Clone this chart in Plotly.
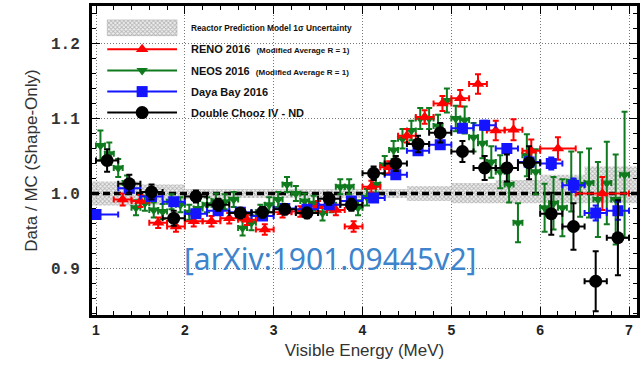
import plotly.graph_objects as go

# ---------------- data ----------------
# Double Chooz IV - ND
dc_e = [1.125, 1.375, 1.625, 1.875, 2.125, 2.375, 2.625, 2.875, 3.125, 3.375, 3.625, 3.875,
        4.125, 4.375, 4.625, 4.875, 5.125, 5.375, 5.625, 5.875, 6.125, 6.375, 6.625, 6.875]
dc_r = [1.044, 1.013, 1.002, 0.967, 0.996, 0.985, 0.974, 0.975, 0.979, 0.974, 0.993, 0.985,
        1.027, 1.040, 1.066, 1.081, 1.056, 1.034, 1.034, 1.041, 0.973, 0.956, 0.883, 0.941]
dc_ey = [0.015, 0.012, 0.010, 0.010, 0.008, 0.008, 0.007, 0.007, 0.007, 0.007, 0.008, 0.008,
         0.009, 0.010, 0.011, 0.013, 0.014, 0.016, 0.018, 0.022, 0.028, 0.031, 0.040, 0.050]
dc_ex = [0.125] * 24

# Daya Bay 2016
db_e = [1.0, 1.375, 1.625, 1.875, 2.125, 2.375, 2.625, 2.875, 3.125, 3.375, 3.625, 3.875,
        4.125, 4.375, 4.625, 4.875, 5.125, 5.375, 5.625, 5.875, 6.125, 6.375, 6.625, 6.875]
db_r = [0.972, 1.007, 0.996, 0.989, 0.973, 0.977, 0.975, 0.970, 0.980, 0.979, 0.985, 0.990,
        0.994, 1.025, 1.057, 1.065, 1.087, 1.091, 1.060, 1.042, 1.040, 1.011, 0.974, 0.977]
db_ey = [0.004, 0.004, 0.004, 0.004, 0.004, 0.004, 0.004, 0.004, 0.004, 0.004, 0.004, 0.004,
         0.004, 0.004, 0.005, 0.005, 0.005, 0.006, 0.006, 0.007, 0.008, 0.009, 0.010, 0.012]
db_ex = [0.25] + [0.125] * 23

# RENO 2016
reno_e = [1.3, 1.5, 1.7, 1.9, 2.1, 2.3, 2.5, 2.7, 2.9, 3.1, 3.3, 3.5, 3.7, 3.9,
          4.1, 4.3, 4.5, 4.7, 4.9, 5.1, 5.3, 5.5, 5.7, 5.9, 6.2, 6.7]
reno_r = [0.992, 0.990, 0.961, 0.956, 0.963, 0.963, 0.967, 0.965, 0.952, 0.975, 0.976, 0.983, 0.978, 0.956,
          1.009, 1.035, 1.077, 1.102, 1.120, 1.127, 1.146, 1.084, 1.085, 1.057, 1.060, 1.000]
reno_ey = [0.008, 0.008, 0.007, 0.007, 0.007, 0.007, 0.007, 0.007, 0.007, 0.007, 0.007, 0.007, 0.007, 0.007,
           0.008, 0.008, 0.009, 0.009, 0.010, 0.011, 0.013, 0.013, 0.014, 0.015, 0.015, 0.022]
reno_ex = [0.1] * 24 + [0.2, 0.3]

# NEOS 2016
neos_e = [1.05, 1.15, 1.25, 1.35, 1.45, 1.55, 1.65, 1.75, 1.85, 1.95,
          2.05, 2.15, 2.25, 2.35, 2.45, 2.55, 2.65, 2.75, 2.85, 2.95,
          3.05, 3.15, 3.25, 3.35, 3.45, 3.55, 3.65, 3.75, 3.85, 3.95,
          4.05, 4.15, 4.25, 4.35, 4.45, 4.55, 4.65, 4.75, 4.85, 4.95,
          5.05, 5.15, 5.25, 5.35, 5.45, 5.55, 5.65, 5.75, 5.85, 5.95,
          6.05, 6.15, 6.25, 6.35, 6.45, 6.55, 6.65, 6.75, 6.85, 6.95]
neos_r = [1.064, 1.053, 1.034, 1.014, 0.981, 0.987, 0.978, 0.976, 0.989, 0.985,
          0.975, 0.980, 0.985, 0.990, 0.989, 0.992, 0.954, 0.961, 0.975, 0.985,
          0.992, 1.012, 1.000, 0.990, 0.987, 0.974, 0.985, 1.009, 1.009, 0.981,
          0.995, 1.012, 1.038, 1.058, 1.073, 1.084, 1.100, 1.100, 1.090, 1.124,
          1.100, 1.098, 1.075, 1.067, 1.042, 1.029, 1.012, 0.961, 1.051, 1.029,
          0.981, 0.987, 0.981, 1.016, 1.012, 1.014, 0.992, 1.014, 0.992, 1.025]
neos_ey = [0.020, 0.015, 0.012, 0.010, 0.010, 0.010, 0.010, 0.010, 0.010, 0.010,
           0.010, 0.010, 0.010, 0.010, 0.010, 0.010, 0.010, 0.010, 0.010, 0.010,
           0.010, 0.010, 0.010, 0.010, 0.010, 0.010, 0.010, 0.010, 0.010, 0.010,
           0.011, 0.011, 0.012, 0.012, 0.013, 0.013, 0.014, 0.014, 0.015, 0.016,
           0.017, 0.018, 0.019, 0.020, 0.021, 0.022, 0.024, 0.026, 0.028, 0.030,
           0.032, 0.035, 0.038, 0.040, 0.043, 0.046, 0.050, 0.055, 0.060, 0.084]
neos_ex = [0.05] * 60

# Reactor prediction 1-sigma band (step edges)
band_e = [0.95, 1.5, 2.0, 2.5, 3.0, 3.5, 4.0, 4.5, 5.0, 5.5, 6.0, 6.5, 7.1]
band_hi = [1.016, 1.012, 1.006, 1.006, 1.006, 1.006, 1.006, 1.010, 1.014, 1.018, 1.025, 1.036, 1.036]
band_lo = [0.984, 0.985, 0.993, 0.994, 0.994, 0.994, 0.994, 0.990, 0.987, 0.987, 0.987, 0.987, 0.987]

x_range = [0.955, 7.09]
y_range = [0.838, 1.25]
x_ticks = [1, 2, 3, 4, 5, 6, 7]
y_ticks = [0.9, 1.0, 1.1, 1.2]
y_ticklabels = ["0.9", "1.0", "1.1", "1.2"]

RED = "#ff0000"
GREEN = "#0f7a1e"
BLUE = "#1414ff"
BLACK = "#000000"

BAND_PATTERN = dict(shape="x", size=3, solidity=0.5, fgcolor="#7a7a7a",
                    bgcolor="rgba(225,225,225,0.5)")

fig = go.Figure()

# band
fig.add_trace(go.Scatter(x=band_e, y=band_lo, mode="lines", line=dict(width=0, shape="hv"),
                         hoverinfo="skip", showlegend=False))
fig.add_trace(go.Scatter(x=band_e, y=band_hi, mode="lines", line=dict(width=0, shape="hv"),
                         fill="tonexty", fillcolor="rgba(255,255,255,0)",
                         fillpattern=BAND_PATTERN,
                         hoverinfo="skip", showlegend=False))
# unity dashed line
fig.add_trace(go.Scatter(x=x_range, y=[1.0, 1.0], mode="lines",
                         line=dict(color="black", width=3.5, dash="7px,4px"),
                         hoverinfo="skip", showlegend=False))


def series(x, y, ex, ey, color, symbol, size):
    fig.add_trace(go.Scatter(
        x=x, y=y, mode="markers",
        marker=dict(color=color, symbol=symbol, size=size, line=dict(width=0)),
        error_x=dict(type="data", array=ex, color=color, thickness=2, width=3),
        error_y=dict(type="data", array=ey, color=color, thickness=2, width=3),
        showlegend=False))


series(neos_e, neos_r, neos_ex, neos_ey, GREEN, "triangle-down", 10)
series(reno_e, reno_r, reno_ex, reno_ey, RED, "triangle-up", 11)
series(db_e, db_r, db_ex, db_ey, BLUE, "square", 11)
series(dc_e, dc_r, dc_ex, dc_ey, BLACK, "circle", 13)

# ---------------- manual legend on an overlay axis (0..1 of plot area) -------------
leg_rows = [0.929, 0.860, 0.791, 0.723, 0.655]
lx0, lx1, lxm, ltx = 0.028, 0.156, 0.092, 0.178
fig.add_trace(go.Scatter(x=[lx0, lx1, lx1, lx0, lx0],
                         y=[0.904, 0.904, 0.955, 0.955, 0.904],
                         xaxis="x2", yaxis="y2", mode="lines", fill="toself",
                         line=dict(color="#a0a0a0", width=0.5),
                         fillcolor="rgba(255,255,255,0)",
                         fillpattern=BAND_PATTERN,
                         hoverinfo="skip", showlegend=False))
leg_items = [(RED, "triangle-up", 11), (GREEN, "triangle-down", 10),
             (BLUE, "square", 11), (BLACK, "circle", 13)]
for (c, s, sz), yy in zip(leg_items, leg_rows[1:]):
    fig.add_trace(go.Scatter(x=[lx0, lx1], y=[yy, yy], xaxis="x2", yaxis="y2",
                             mode="lines", line=dict(color=c, width=2),
                             hoverinfo="skip", showlegend=False))
    fig.add_trace(go.Scatter(x=[lxm], y=[yy], xaxis="x2", yaxis="y2", mode="markers",
                             marker=dict(color=c, symbol=s, size=sz),
                             hoverinfo="skip", showlegend=False))

leg_texts = [
    "<span style='font-size:8.3px'>Reactor Prediction Model 1σ Uncertainty</span>",
    "RENO 2016  <span style='font-size:8px'>(Modified Average R = 1)</span>",
    "NEOS 2016  <span style='font-size:8px'>(Modified Average R = 1)</span>",
    "Daya Bay 2016",
    "Double Chooz IV - ND",
]
annotations = []
for t, yy in zip(leg_texts, leg_rows):
    annotations.append(dict(x=ltx, y=yy, xref="paper", yref="paper", text=t,
                            showarrow=False, xanchor="left", yanchor="middle",
                            font=dict(family="Liberation Sans", size=11, color="#111", weight="bold")))

annotations.append(dict(x=0.437, y=0.183, xref="paper", yref="paper",
                        text="[arXiv:1901.09445v2]", showarrow=False,
                        xanchor="center", yanchor="middle",
                        font=dict(family="Noto Sans", size=30, color="#3d84cc")))

fig.update_layout(
    width=644, height=368,
    margin=dict(l=92, r=7, t=3, b=53),
    paper_bgcolor="white", plot_bgcolor="white",
    showlegend=False,
    annotations=annotations,
    xaxis=dict(range=x_range, tickvals=x_ticks, ticks="inside", ticklen=8, tickwidth=1,
               tickcolor="black",
               minor=dict(ticks="inside", ticklen=4, dtick=0.2, tickcolor="black", showgrid=False),
               showline=True, linewidth=3, linecolor="black", mirror="allticks",
               showgrid=True, gridcolor="#777", gridwidth=1, griddash="1px,2px",
               zeroline=False,
               tickfont=dict(family="Liberation Sans", size=14, color="#222", weight="bold"),
               title=dict(text="Visible Energy (MeV)", standoff=8,
                          font=dict(family="Liberation Sans", size=17, color="#333"))),
    yaxis=dict(range=y_range, tickvals=y_ticks, ticktext=y_ticklabels, ticks="inside",
               ticklen=8, tickwidth=1, tickcolor="black", ticklabelstandoff=6,
               minor=dict(ticks="inside", ticklen=4, dtick=0.02, tickcolor="black", showgrid=False),
               showline=True, linewidth=3, linecolor="black", mirror="allticks",
               showgrid=True, gridcolor="#777", gridwidth=1, griddash="1px,2px",
               zeroline=False,
               tickfont=dict(family="Liberation Mono", size=16, color="#333", weight="bold"),
               title=dict(text="Data / MC (Shape-Only)", standoff=10,
                          font=dict(family="Liberation Sans", size=17, color="#333"))),
    xaxis2=dict(overlaying="x", range=[0, 1], visible=False, fixedrange=True),
    yaxis2=dict(overlaying="y", range=[0, 1], visible=False, fixedrange=True),
)

fig.write_html("out.html")
